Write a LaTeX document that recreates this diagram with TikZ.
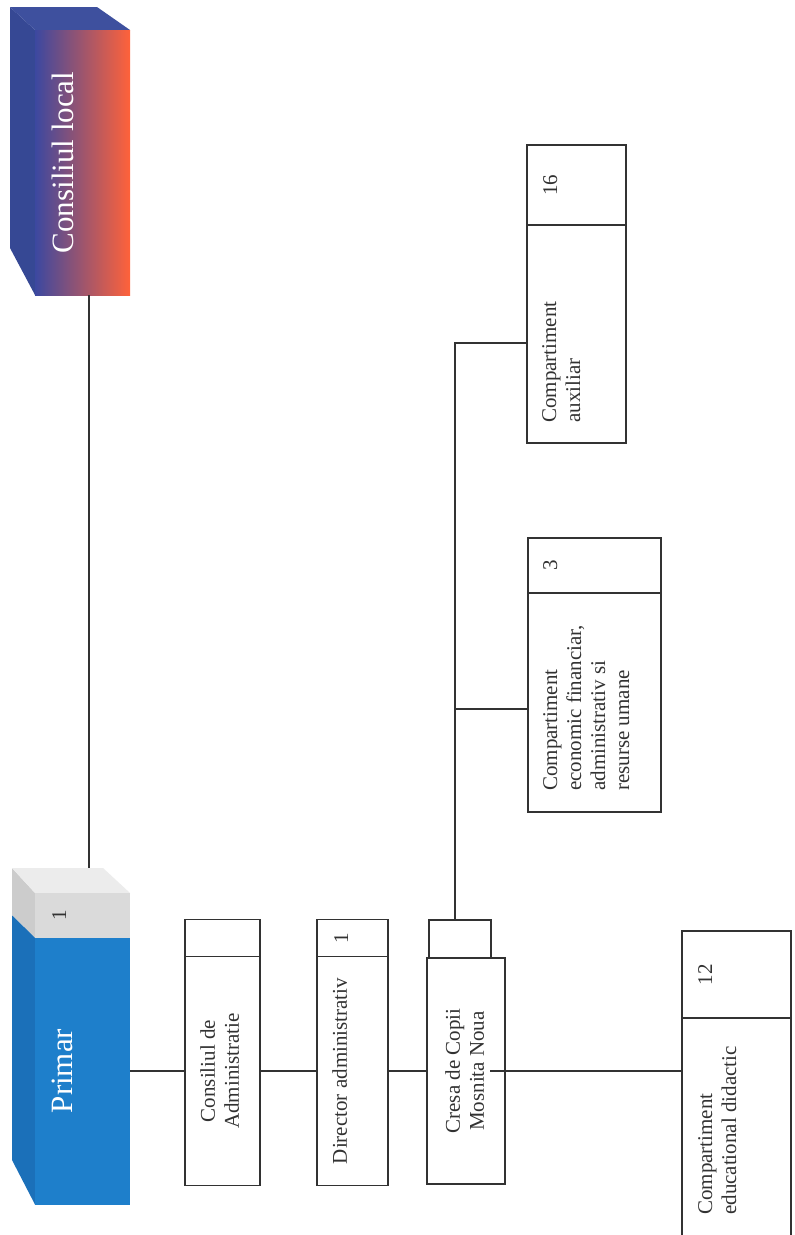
\documentclass[tikz,border=0pt]{standalone}
\usepackage{fontspec}
\setmainfont{Liberation Serif}
\usetikzlibrary{positioning}
\definecolor{clblue}{RGB}{60,72,160}
\definecolor{clmid}{RGB}{200,62,98}
\definecolor{clred}{RGB}{255,98,58}
\definecolor{cldark}{RGB}{54,72,148}
\definecolor{clside}{RGB}{62,80,158}
\definecolor{pblue}{RGB}{30,127,203}
\definecolor{pside}{RGB}{27,112,185}
\definecolor{lgrey}{RGB}{218,218,218}
\definecolor{dgrey}{RGB}{204,204,204}
\definecolor{wgrey}{RGB}{236,236,236}
\definecolor{ink}{RGB}{50,50,50}

\begin{document}
\begin{tikzpicture}[x=1pt,y=1pt,
	box/.style={draw=ink,line width=1.1pt,rectangle,inner sep=0,outer sep=0},
	face/.style={rectangle,inner sep=0,outer sep=0},
	txt/.style={font=\fontsize{21}{24}\selectfont,text=ink,inner sep=0,align=center,anchor=north},
	ltxt/.style={font=\fontsize{21}{24}\selectfont,text=ink,inner sep=0,align=left,anchor=north west},
	big/.style={font=\fontsize{31}{36}\selectfont,text=white,inner sep=0,anchor=north},
	conn/.style={draw=ink,line width=1.1pt}]
	\fill[white] (0,0) rectangle (795,-1235);
	\useasboundingbox (0,0) rectangle (795,-1235);
	\clip (0,0) rectangle (795,-1235);
	\begin{scope}[rotate=90,transform shape]
	% Consiliul local
	\fill[cldark] (-295,-35) -- (-30,-35) -- (-7,-10) -- (-248,-10) -- cycle;
	\fill[clside] (-30,-35) -- (-30,-130) -- (-7,-97) -- (-7,-10) -- cycle;
	\node[face,left color=clblue,middle color=clmid,right color=clred,minimum width=265,minimum height=95] (cl) at (-162.5,-82.5) {};
	\node[big] (tcl) at ([yshift=-17pt]cl.north) {Consiliul local};

	% Primar
	\fill[pside] (-1204.5,-35) -- (-937.5,-35) -- (-915,-12) -- (-1160,-12) -- cycle;
	\fill[dgrey] (-937.5,-35) -- (-893,-35) -- (-868,-12) -- (-915,-12) -- cycle;
	\fill[wgrey] (-893,-35) -- (-893,-130) -- (-868,-103) -- (-868,-12) -- cycle;
	\node[face,fill=lgrey,minimum width=44.5,minimum height=95] (pnum) at (-915.25,-82.5) {};
	\node[face,fill=pblue,minimum width=267,minimum height=95] (primar) at (-1071,-82.5) {};
	\node[big] (tprimar) at ([yshift=-17pt]primar.north) {Primar};
	\node[txt] (tpnum) at ([yshift=-17pt]pnum.north) {1};

	\node[box,minimum width=229,minimum height=75] (cda) at (-1071,-222.5) {};
	\node[box,minimum width=37,minimum height=75,right=0pt of cda] (ncda) {};
	\node[txt] (tcda) at ([yshift=-15pt]cda.north) {Consiliul de\\Administratie};

	\node[box,minimum width=229,minimum height=71] (dir) at (-1071,-352.5) {};
	\node[box,minimum width=37,minimum height=71,right=0pt of dir] (ndir) {};
	\node[txt] (tdir) at ([yshift=-15pt]dir.north) {Director administrativ};
	\node[txt] (tndir) at ([yshift=-17pt]ndir.north) {1};

	\node[box,minimum width=226,minimum height=78] (cresa) at (-1071,-466) {};
	\node[box,minimum width=38,minimum height=62,anchor=north west] (ncresa) at ([yshift=-2pt]cresa.north east) {};
	\node[txt] (tcresa) at ([yshift=-18pt]cresa.north) {Cresa de Copii\\Mosnita Noua};

	\node[box,minimum width=219,minimum height=133] (eco) at (-702.5,-594.5) {};
	\node[box,minimum width=55,minimum height=133,right=0pt of eco] (neco) {};
	\node[ltxt] (teco) at ([xshift=21pt,yshift=-15pt]eco.north west) {Compartiment\\economic financiar,\\administrativ si\\resurse umane};
	\node[txt] (tneco) at ([yshift=-15pt]neco.north) {3};

	\node[box,minimum width=218,minimum height=99] (aux) at (-334,-576.5) {};
	\node[box,minimum width=80,minimum height=99,right=0pt of aux] (naux) {};
	\node[ltxt] (taux) at ([xshift=20pt,yshift=-15pt]aux.north west) {Compartiment\\auxiliar};
	\node[txt] (tnaux) at ([yshift=-16pt]naux.north) {16};

	\node[box,minimum width=222,minimum height=109] (edu) at (-1129,-736.5) {};
	\node[box,minimum width=87,minimum height=109,right=0pt of edu] (nedu) {};
	\node[ltxt] (tedu) at ([xshift=25pt,yshift=-16pt]edu.north west) {Compartiment\\educational didactic};
	\node[txt] (tnedu) at ([yshift=-16pt]nedu.north) {12};

	\coordinate (ptop) at (-868,-89);
	\coordinate (trunk) at ([yshift=5pt]ncresa.east);
	\coordinate (auxtop) at ([xshift=-9pt]aux.north);
	\coordinate (ecotop) at ([xshift=-6.5pt]eco.north);
	\draw[conn] ([yshift=-6.5pt]cl.west) -- (ptop);
	\draw[conn] (primar.south) -- (cda.north);
	\draw[conn] (cda.south) -- (dir.north);
	\draw[conn] (dir.south) -- (cresa.north);
	\draw[conn] (trunk) -| (auxtop);
	\draw[conn] (trunk -| ecotop) -- (ecotop);
	\draw[conn] ([yshift=15pt]cresa.south) -- (cresa.south |- edu.north);
	\end{scope}
\end{tikzpicture}
\end{document}
